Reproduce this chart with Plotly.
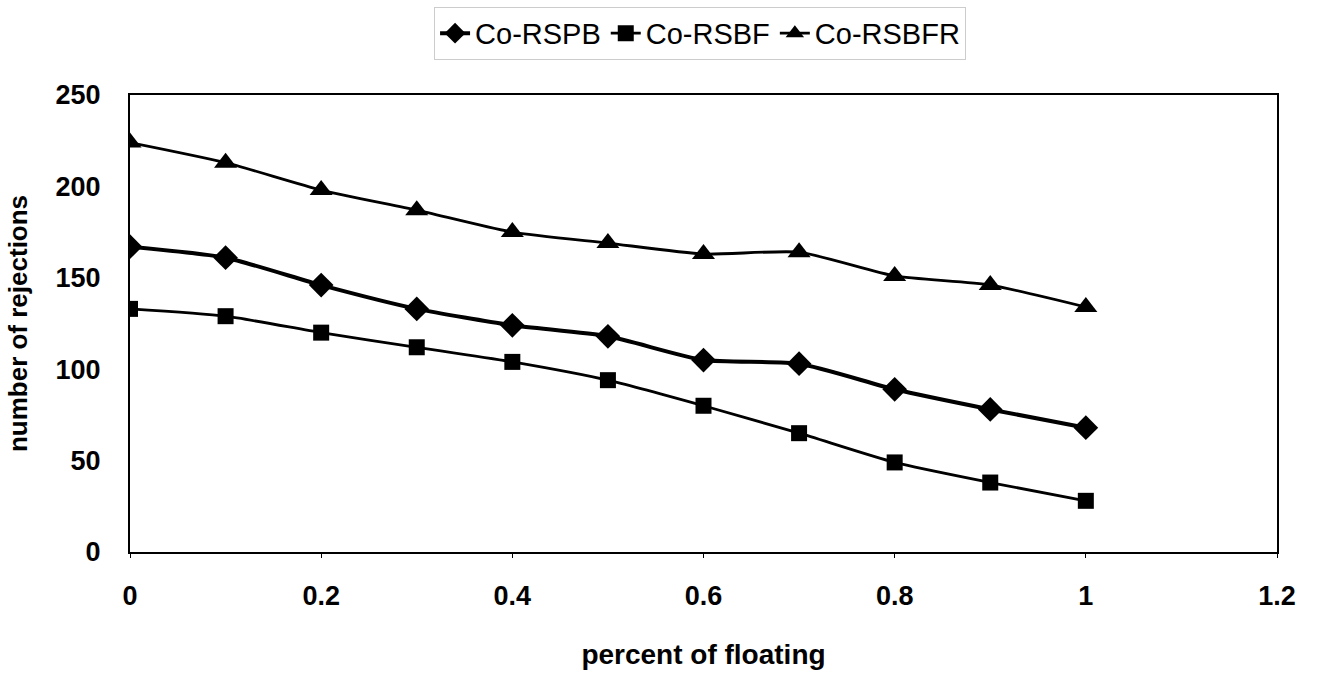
import plotly.graph_objects as go

x_vals = [0, 0.1, 0.2, 0.3, 0.4, 0.5, 0.6, 0.7, 0.8, 0.9, 1.0]
co_rspb = [167, 161, 146, 133, 124, 118, 105, 103, 89, 78, 68]
co_rsbf = [133, 129, 120, 112, 104, 94, 80, 65, 49, 38, 28]
co_rsbfr = [224, 213, 198, 187, 175, 169, 163, 164, 151, 146, 134]

x_ticks = [0, 0.2, 0.4, 0.6, 0.8, 1, 1.2]
x_tick_text = ["0", "0.2", "0.4", "0.6", "0.8", "1", "1.2"]
y_ticks = [0, 50, 100, 150, 200, 250]

FONT = "Liberation Sans, Arial, sans-serif"

fig = go.Figure()
fig.add_trace(go.Scatter(
    x=x_vals, y=co_rspb, name="Co-RSPB", mode="lines+markers",
    line=dict(color="black", width=4, shape="spline", smoothing=0.6),
    marker=dict(symbol="diamond", size=19, color="black"),
))
fig.add_trace(go.Scatter(
    x=x_vals, y=co_rsbf, name="Co-RSBF", mode="lines+markers",
    line=dict(color="black", width=2.8, shape="spline", smoothing=0.6),
    marker=dict(symbol="square", size=16, color="black"),
))
fig.add_trace(go.Scatter(
    x=x_vals, y=co_rsbfr, name="Co-RSBFR", mode="lines+markers",
    line=dict(color="black", width=2.8, shape="spline", smoothing=0.6),
    marker=dict(symbol="triangle-up", size=20, color="black"),
))

fig.update_layout(
    width=1331, height=678,
    margin=dict(l=130, r=54, t=95, b=126),
    paper_bgcolor="white", plot_bgcolor="white",
    font=dict(family=FONT, color="black", size=24),
    legend=dict(
        orientation="h", x=0.497, xanchor="center", y=0.99, yanchor="top",
        yref="container",
        font=dict(family=FONT, size=29, color="black"),
        bordercolor="#cccccc", borderwidth=1,
        tracegroupgap=0,
    ),
    showlegend=True,
)

fig.update_xaxes(
    range=[0, 1.2], tickvals=x_ticks, ticktext=x_tick_text,
    showline=True, linecolor="black", linewidth=2, mirror=True,
    showgrid=False, zeroline=False,
    ticks="outside", ticklen=4, tickcolor="black", tickwidth=1,
    tickfont=dict(family=FONT, size=27, color="black", weight="bold"),
    ticklabelstandoff=15,
    title=dict(text="<b>percent of floating</b>", font=dict(family=FONT, size=28), standoff=34),
)
fig.update_yaxes(
    range=[0, 250], tickvals=y_ticks,
    showline=True, linecolor="black", linewidth=2, mirror=True,
    showgrid=False, zeroline=False,
    ticks="",
    tickfont=dict(family=FONT, size=27, color="black", weight="bold"),
    ticklabelstandoff=22,
    title=dict(text="<b>number of rejections</b>", font=dict(family=FONT, size=26), standoff=20),
)

fig.write_html("out.html")
